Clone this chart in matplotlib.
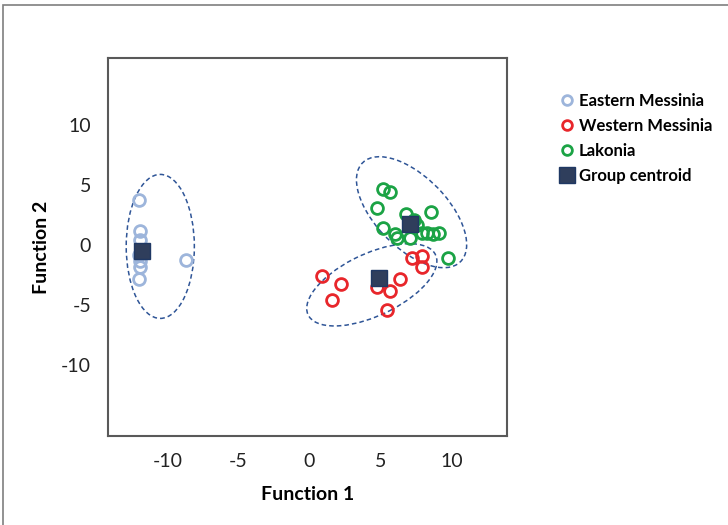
import matplotlib.pyplot as plt
from matplotlib.patches import Ellipse, Rectangle
from matplotlib.lines import Line2D

# discriminant scores
east_x = [-12.0, -11.9, -11.9, -12.0, -11.9, -11.9, -12.0, -8.7]
east_y = [3.8, 1.2, 0.4, -0.8, -1.3, -1.8, -2.8, -1.2]

west_x = [0.9, 2.2, 1.6, 4.8, 5.7, 6.4, 5.5, 7.2, 7.9, 7.9]
west_y = [-2.6, -3.2, -4.6, -3.5, -3.8, -2.8, -5.4, -1.1, -0.9, -1.8]

lak_x = [5.2, 5.7, 4.8, 6.8, 8.6, 7.4, 5.2, 6.0, 6.2, 7.1, 7.6, 7.9, 8.3, 8.7, 9.1, 9.8]
lak_y = [4.7, 4.4, 3.1, 2.6, 2.8, 2.1, 1.4, 0.9, 0.6, 0.6, 1.7, 1.0, 1.0, 0.9, 1.0, -1.1]

cent_x = [-11.8, 4.9, 7.1]
cent_y = [-0.5, -2.7, 1.75]

# group ellipses: center x, center y, width, height, angle
ell_cx = [-10.5, 4.4, 7.2]
ell_cy = [-0.1, -3.3, 2.75]
ell_w = [4.8, 10.3, 10.8]
ell_h = [12.0, 5.0, 5.4]
ell_ang = [0, 31.4, -53.4]

xticks = [-10, -5, 0, 5, 10]
yticks = [-10, -5, 0, 5, 10]

plt.rcParams['font.family'] = ['Lato', 'DejaVu Sans']
plt.rcParams['axes.unicode_minus'] = False

fig = plt.figure(figsize=(7.28, 5.25), dpi=100)
ax = fig.add_axes([0.148, 0.1695, 0.548, 0.72])

# outer frame
fig.patches.append(Rectangle((0.004, -0.1), 1.2, 1.09, transform=fig.transFigure,
                             fill=False, edgecolor='#7f7f7f', lw=1.2))

for cx, cy, w, h, a in zip(ell_cx, ell_cy, ell_w, ell_h, ell_ang):
    ax.add_patch(Ellipse((cx, cy), w, h, angle=a, fill=False,
                         edgecolor='#2F5597', lw=1.1, ls=(0, (3, 2))))

ax.plot(east_x, east_y, 'o', ms=8.5, mfc='none', mec='#9DB5DB', mew=2)
ax.plot(west_x, west_y, 'o', ms=8.5, mfc='none', mec='#E8262B', mew=2)
ax.plot(lak_x, lak_y, 'o', ms=8.5, mfc='none', mec='#1BA345', mew=2)
ax.plot(cent_x, cent_y, 's', ms=11.5, mfc='#2F3E5C', mec='#1F3864', mew=1)

ax.set_xlim(-14.2, 13.9)
ax.set_ylim(-15.9, 15.6)
ax.set_xticks(xticks)
ax.set_yticks(yticks)
ax.tick_params(length=0, labelsize=14, pad=12, colors='#222222')
for s in ax.spines.values():
    s.set_color('#595959')
    s.set_linewidth(1.5)

ax.set_xlabel('Function 1', fontsize=14, fontweight='bold', labelpad=12)
ax.set_ylabel('Function 2', fontsize=14, fontweight='bold', labelpad=8)

handles = [
    Line2D([], [], ls='none', marker='o', ms=7, mfc='none', mec='#9DB5DB', mew=2),
    Line2D([], [], ls='none', marker='o', ms=7, mfc='none', mec='#E8262B', mew=2),
    Line2D([], [], ls='none', marker='o', ms=7, mfc='none', mec='#1BA345', mew=2),
    Line2D([], [], ls='none', marker='s', ms=11, mfc='#2F3E5C', mec='#1F3864'),
]
labels = ['Eastern Messinia', 'Western Messinia', 'Lakonia', 'Group centroid']
leg = fig.legend(handles, labels, loc='upper left', bbox_to_anchor=(0.745, 0.852),
                 frameon=False, prop={'weight': 'bold', 'size': 12},
                 handletextpad=0.2, handlelength=1.1, labelspacing=0.55)

fig.savefig('out.png', dpi=100)
